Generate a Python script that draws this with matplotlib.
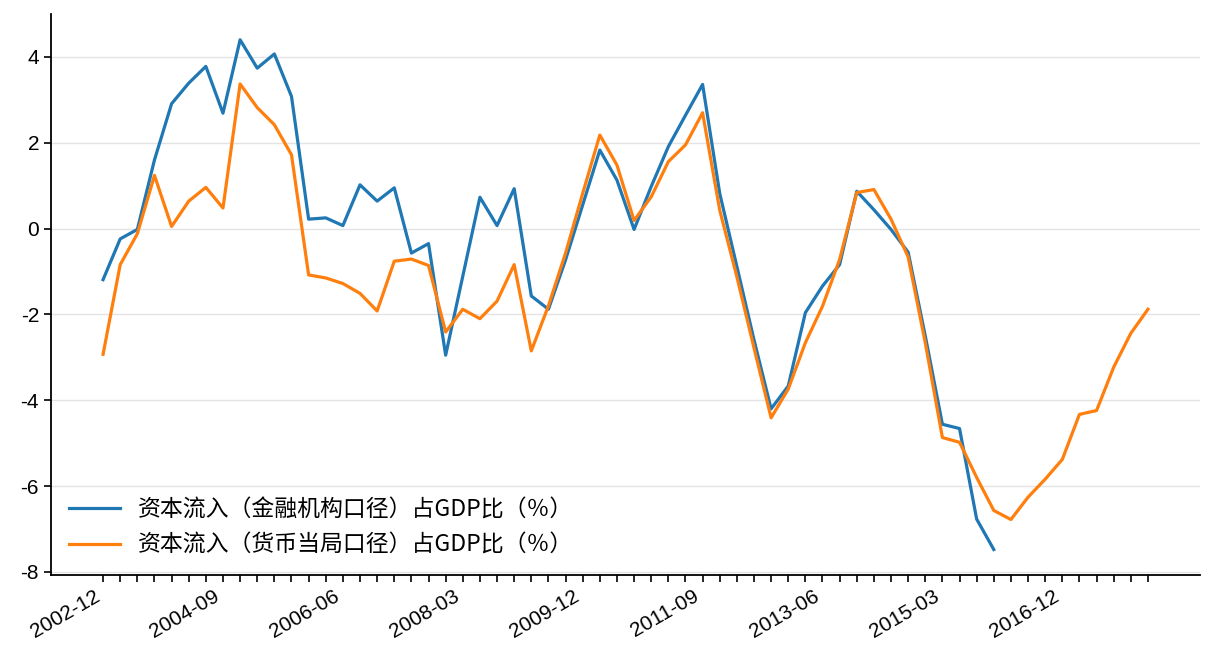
import numpy as np
import pandas as pd
import matplotlib
matplotlib.use("Agg")
import matplotlib.pyplot as plt

plt.rcParams['font.family'] = ['Liberation Sans', 'Noto Sans CJK SC', 'DejaVu Sans']
plt.rcParams['axes.unicode_minus'] = False

# quarterly, 2002-12 .. 2018-03
quarters = pd.date_range('2002-12-31', periods=62, freq='QE').strftime('%Y-%m').tolist()

# 资本流入（金融机构口径）占GDP比（％）, ends 2015-12
inflow_fin = [
    -1.19, -0.24, -0.02, 1.60, 2.91, 3.39, 3.78, 2.69, 4.40, 3.74,
    4.07, 3.08, 0.22, 0.25, 0.07, 1.02, 0.64, 0.95, -0.57, -0.35,
    -2.95, -1.11, 0.73, 0.07, 0.93, -1.57, -1.88, -0.73, 0.55, 1.83,
    1.13, -0.02, 0.98, 1.91, 2.64, 3.36, 0.82, -0.88, -2.59, -4.20,
    -3.67, -1.96, -1.34, -0.84, 0.87, 0.44, -0.02, -0.55, -2.50, -4.56,
    -4.66, -6.77, -7.48,
]

# 资本流入（货币当局口径）占GDP比（％）
inflow_pboc = [
    -2.93, -0.84, -0.12, 1.24, 0.05, 0.64, 0.96, 0.48, 3.37, 2.82,
    2.42, 1.72, -1.08, -1.15, -1.28, -1.51, -1.92, -0.76, -0.71, -0.86,
    -2.41, -1.88, -2.10, -1.69, -0.84, -2.85, -1.80, -0.57, 0.82, 2.18,
    1.48, 0.19, 0.74, 1.56, 1.95, 2.70, 0.43, -1.12, -2.78, -4.41,
    -3.74, -2.66, -1.81, -0.72, 0.84, 0.91, 0.22, -0.66, -2.66, -4.87,
    -4.98, -5.80, -6.57, -6.78, -6.26, -5.84, -5.38, -4.33, -4.24, -3.23,
    -2.44, -1.88,
]

label_fin = '资本流入（金融机构口径）占GDP比（％）'
label_pboc = '资本流入（货币当局口径）占GDP比（％）'

x = np.arange(len(quarters))
fin = np.full(len(quarters), np.nan)
fin[:len(inflow_fin)] = inflow_fin

fig = plt.figure(figsize=(12.16, 6.72), dpi=100)
ax = fig.add_axes([0.0418, 0.1443, 0.9452, 0.8344])

ax.plot(x, fin, color='#1f77b4', lw=2.3, label=label_fin)
ax.plot(x, inflow_pboc, color='#ff7f0e', lw=2.3, label=label_pboc)

ax.set_xticks(x)
ax.set_xticklabels([q if i % 7 == 0 else '' for i, q in enumerate(quarters)],
                   rotation=30, ha='right', fontsize=15)
ax.set_yticks([-8, -6, -4, -2, 0, 2, 4])
ax.tick_params(axis='y', labelsize=15)
ax.tick_params(length=5, width=1.2)

ax.grid(axis='y', color='#e3e3e3', lw=1)
ax.set_axisbelow(True)
for s in ['top', 'right']:
    ax.spines[s].set_visible(False)
for s in ['left', 'bottom']:
    ax.spines[s].set_linewidth(1.3)

leg = ax.legend(loc='lower left', frameon=False,
                prop={'family': ['Noto Sans CJK SC', 'DejaVu Sans'], 'size': 16.5},
                handlelength=2.2, handletextpad=0.8, labelspacing=0.55,
                borderaxespad=0.4)

fig.savefig('out.png', dpi=100)
